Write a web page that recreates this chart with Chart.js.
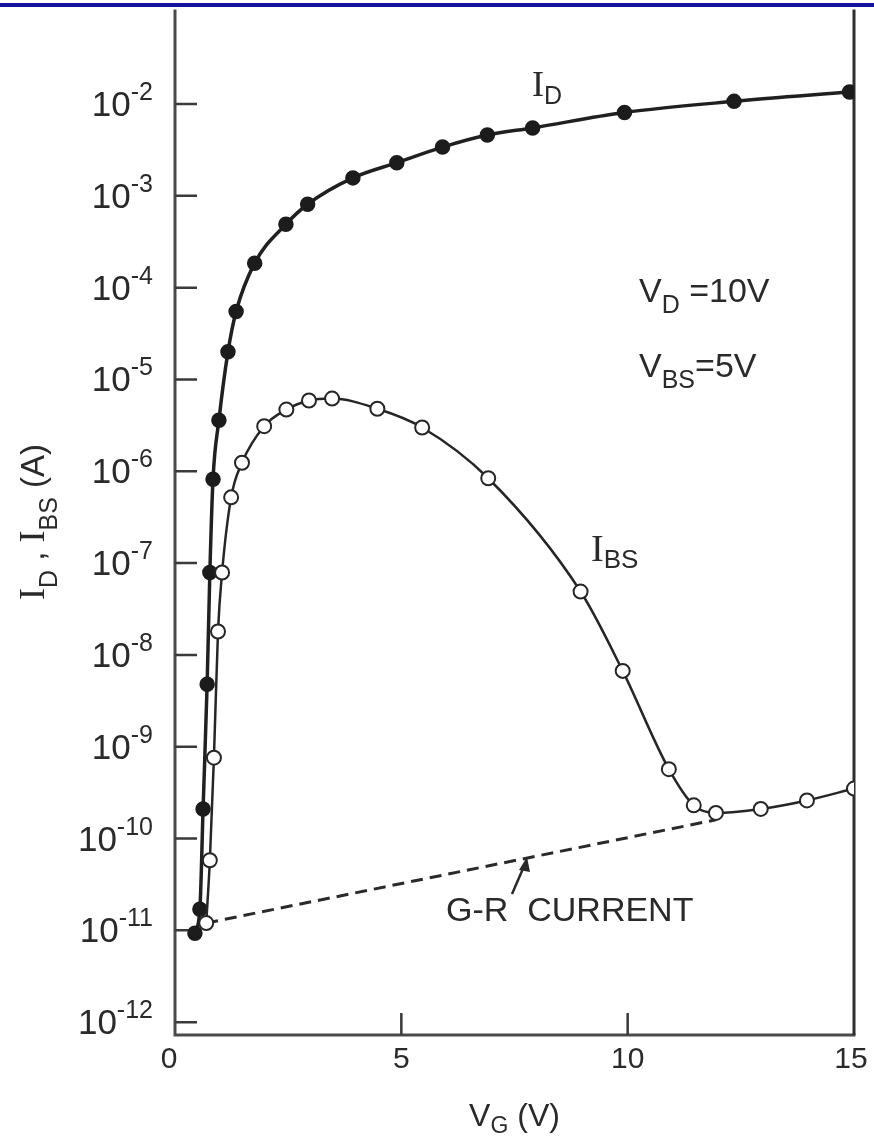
<!DOCTYPE html>
<html>
<head>
<meta charset="utf-8">
<title>I_D, I_BS vs V_G</title>
<script src="https://cdn.jsdelivr.net/npm/chart.js@4.4.1/dist/chart.umd.min.js"></script>
<style>
  html, body { margin: 0; padding: 0; background: #fff; }
  #wrap { width: 874px; height: 1136px; }
</style>
</head>
<body>
<div id="wrap"><canvas id="chart" width="874" height="1136"></canvas></div>
<script>
// --- DATA ---
const idVolts = [0.44, 0.55, 0.62, 0.71, 0.77, 0.84, 0.97, 1.17, 1.35, 1.76, 2.45, 2.93, 3.93, 4.90, 5.91, 6.90, 7.90, 9.93, 12.35, 14.9];
const idAmps  = [9.3e-12, 1.7e-11, 2.1e-10, 4.8e-9, 7.9e-8, 8.2e-7, 3.6e-6, 2.0e-5, 5.5e-5, 1.85e-4, 4.9e-4, 8.1e-4, 1.57e-3, 2.3e-3, 3.4e-3, 4.6e-3, 5.5e-3, 8.1e-3, 1.07e-2, 1.35e-2];

const ibsVolts = [0.69, 0.77, 0.86, 0.95, 1.04, 1.24, 1.48, 1.97, 2.46, 2.96, 3.47, 4.47, 5.46, 6.92, 8.96, 9.89, 10.91, 11.46, 11.95, 12.94, 13.96, 15.0];
const ibsAmps  = [1.2e-11, 5.8e-11, 7.6e-10, 1.8e-8, 7.9e-8, 5.2e-7, 1.24e-6, 3.1e-6, 4.7e-6, 5.9e-6, 6.2e-6, 4.8e-6, 3.0e-6, 8.4e-7, 4.9e-8, 6.7e-9, 5.7e-10, 2.3e-10, 1.9e-10, 2.1e-10, 2.6e-10, 3.5e-10];

// G-R current (dashed straight line)
const grVolts = [0.69, 11.95];
const grAmps  = [1.2e-11, 1.6e-10];

// tick labels
const xTickValues = [0, 5, 10, 15];
const yTickExponents = [-2, -3, -4, -5, -6, -7, -8, -9, -10, -11, -12];

// --- STYLE ---
const SANS = '"Liberation Sans", Arial, sans-serif';
const SERIF = '"Liberation Serif", "Times New Roman", serif';
const INK = '#2a2a2a';

function toPoints(xs, ys) {
    return xs.map((x, i) => ({ x: x, y: ys[i] }));
}

// draw a run of text pieces [text, font, dy] starting at x
function drawParts(ctx, x, y, parts) {
    let cx = x;
    parts.forEach(([text, font, dy]) => {
        ctx.font = font;
        ctx.fillText(text, cx, y + (dy || 0));
        cx += ctx.measureText(text).width;
    });
    return cx;
}

function partsWidth(ctx, parts) {
    let w = 0;
    parts.forEach(([text, font]) => { ctx.font = font; w += ctx.measureText(text).width; });
    return w;
}

// --- axes, ticks, labels and notes ---
const figureDecor = {
    id: 'figureDecor',
    beforeDatasetsDraw(chart) {
        const ctx = chart.ctx;
        const a = chart.chartArea;
        const xs = chart.scales.x;
        const ys = chart.scales.y;
        ctx.save();

        // top blue rule of the page
        ctx.fillStyle = '#15159c';
        ctx.fillRect(0, 3, chart.width, 4);

        // frame: left, right, bottom
        ctx.lineCap = 'butt';
        ctx.strokeStyle = '#4a4a4a';
        ctx.lineWidth = 3;
        ctx.beginPath();
        ctx.moveTo(a.left, a.top); ctx.lineTo(a.left, a.bottom + 1.5);
        ctx.moveTo(a.left - 1.5, a.bottom); ctx.lineTo(a.right + 1.5, a.bottom);
        ctx.stroke();
        ctx.strokeStyle = '#2e2e2e';
        ctx.beginPath();
        ctx.moveTo(a.right, a.top); ctx.lineTo(a.right, a.bottom);
        ctx.stroke();

        // inward ticks
        ctx.strokeStyle = '#3a3a3a';
        ctx.lineWidth = 2.5;
        ctx.beginPath();
        ys.ticks.forEach(t => {
            const py = ys.getPixelForValue(t.value);
            ctx.moveTo(a.left, py); ctx.lineTo(a.left + 22, py);
        });
        xs.ticks.forEach(t => {
            if (t.value <= xs.min || t.value >= xs.max) return;
            const px = xs.getPixelForValue(t.value);
            ctx.moveTo(px, a.bottom); ctx.lineTo(px, a.bottom - 22);
        });
        ctx.stroke();
        ctx.restore();
    },
    afterDraw(chart) {
        const ctx = chart.ctx;
        const a = chart.chartArea;
        const xs = chart.scales.x;
        const ys = chart.scales.y;
        ctx.save();
        ctx.fillStyle = INK;
        ctx.textBaseline = 'alphabetic';

        // y tick labels 10^-n
        ys.ticks.forEach(t => {
            const py = ys.getPixelForValue(t.value);
            const exp = Math.round(Math.log10(t.value));
            const parts = [['10', '35px ' + SANS, 0], ['-' + Math.abs(exp), '25px ' + SANS, -16]];
            const w = partsWidth(ctx, parts);
            drawParts(ctx, 153 - w, py + 12, parts);
        });

        // x tick labels
        ctx.font = '30px ' + SANS;
        ctx.textAlign = 'center';
        xs.ticks.forEach(t => {
            const px = xs.getPixelForValue(t.value);
            const lbl = String(t.value);
            const off = t.value === 15 ? -3 : (t.value === 0 ? -6 : 0);
            ctx.fillText(lbl, px + off, a.bottom + 33);
        });
        ctx.textAlign = 'left';

        // x title V_G (V)
        const xt = [['V', '32px ' + SANS, 0], ['G', '23px ' + SANS, 7], [' (V)', '32px ' + SANS, 0]];
        drawParts(ctx, (a.left + a.right) / 2 - partsWidth(ctx, xt) / 2, 1126, xt);

        // y title I_D , I_BS (A), rotated
        ctx.save();
        ctx.translate(44, 522);
        ctx.rotate(-Math.PI / 2);
        const yt = [['I', '36px ' + SERIF, 0], ['D', '25px ' + SANS, 13], [' , ', '33px ' + SANS, 0],
                    ['I', '36px ' + SERIF, 0], ['BS', '25px ' + SANS, 13], [' (A)', '33px ' + SANS, 0]];
        drawParts(ctx, -partsWidth(ctx, yt) / 2, 0, yt);
        ctx.restore();

        // curve labels
        drawParts(ctx, 532, 96, [['I', '36px ' + SERIF, 0], ['D', '25px ' + SANS, 8]]);
        drawParts(ctx, 591, 561, [['I', '38px ' + SERIF, 0], ['BS', '26px ' + SANS, 7]]);

        // bias conditions
        drawParts(ctx, 639, 302, [['V', '34px ' + SANS, 0], ['D', '25px ' + SANS, 11], [' =10V', '34px ' + SANS, 0]]);
        drawParts(ctx, 639, 377, [['V', '34px ' + SANS, 0], ['BS', '25px ' + SANS, 11], ['=5V', '34px ' + SANS, 0]]);

        // G-R note with arrow to the dashed line
        ctx.font = '34px ' + SANS;
        ctx.fillText('G-R  CURRENT', 446, 921);
        ctx.strokeStyle = INK;
        ctx.lineWidth = 2.5;
        ctx.beginPath();
        ctx.moveTo(512, 894); ctx.lineTo(525, 864);
        ctx.stroke();
        ctx.beginPath();
        ctx.moveTo(527, 857); ctx.lineTo(519, 870); ctx.lineTo(530, 872);
        ctx.closePath();
        ctx.fill();
        ctx.restore();
    }
};

// --- CHART ---
document.addEventListener('DOMContentLoaded', () => {
    const ctx = document.getElementById('chart').getContext('2d');
    new Chart(ctx, {
        type: 'scatter',
        data: {
            datasets: [
                {
                    label: 'I_BS',
                    data: toPoints(ibsVolts, ibsAmps),
                    showLine: true,
                    borderColor: '#262626',
                    borderWidth: 2.5,
                    cubicInterpolationMode: 'monotone',
                    pointRadius: 7,
                    pointBorderWidth: 2,
                    pointBackgroundColor: '#ffffff',
                    pointBorderColor: '#262626',
                    order: 1
                },
                {
                    label: 'I_D',
                    data: toPoints(idVolts, idAmps),
                    showLine: true,
                    borderColor: '#202020',
                    borderWidth: 3.5,
                    cubicInterpolationMode: 'monotone',
                    pointRadius: 6,
                    pointBackgroundColor: '#1c1c1c',
                    pointBorderColor: '#1c1c1c',
                    order: 2
                },
                {
                    label: 'G-R current',
                    data: toPoints(grVolts, grAmps),
                    showLine: true,
                    borderColor: '#2a2a2a',
                    borderWidth: 3,
                    borderDash: [12, 7],
                    pointRadius: 0,
                    order: 3
                }
            ]
        },
        options: {
            responsive: false,
            animation: false,
            devicePixelRatio: 1,
            layout: { padding: { left: 175, right: 20, top: 7, bottom: 101 } },
            plugins: { legend: { display: false }, tooltip: { enabled: false } },
            scales: {
                x: {
                    type: 'linear',
                    min: 0,
                    max: 15,
                    bounds: 'data',
                    grid: { display: false, drawTicks: false },
                    border: { display: false },
                    ticks: { display: false },
                    afterBuildTicks: s => { s.ticks = xTickValues.map(v => ({ value: v })); },
                    afterFit: s => { s.height = 0; }
                },
                y: {
                    type: 'logarithmic',
                    min: Math.pow(10, -12.14),
                    max: Math.pow(10, -0.97),
                    bounds: 'data',
                    grid: { display: false, drawTicks: false },
                    border: { display: false },
                    ticks: { display: false },
                    afterBuildTicks: s => { s.ticks = yTickExponents.map(e => ({ value: Math.pow(10, e) })); },
                    afterFit: s => { s.width = 0; }
                }
            }
        },
        plugins: [figureDecor]
    });
});
</script>
</body>
</html>
